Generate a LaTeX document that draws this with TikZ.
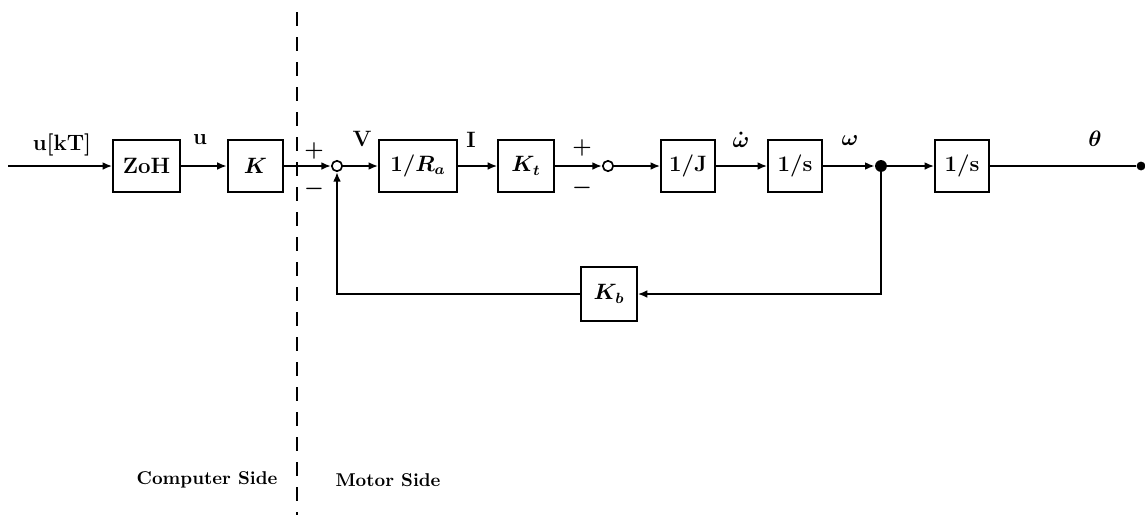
\documentclass[tikz,border=0pt]{standalone}
\usetikzlibrary{arrows.meta}
\begin{document}
\begin{tikzpicture}[x=0.54pt, y=-0.54pt,
  font=\large\bfseries\boldmath,
  box/.style={draw, line width=1pt, minimum height=28pt, minimum width=#1, inner sep=1pt},
  box/.default=30pt,
  arr/.style={-{Latex[length=5.2pt,width=4.2pt]}, line width=1.1pt},
  wire/.style={line width=1.1pt},
  junc/.style={circle, draw, line width=0.9pt, inner sep=0pt, minimum size=5.6pt},
  dot/.style={circle, fill, inner sep=0pt, minimum size=#1},
  dot/.default=6.4pt]
\useasboundingbox (0,0) rectangle (1145,515);
% forward path
\coordinate (in) at (8,166);
\node[box=36pt] (zoh) at (146.5,166) {ZoH};
\node[box=30pt] (k) at (255.5,166) {$K$};
\node[junc] (s1) at (337,166) {};
\node[box=42pt] (ra) at (418,166) {1/$R_a$};
\node[box=30pt] (kt) at (526,166) {$K_t$};
\node[junc] (s2) at (608,166) {};
\node[box=29pt] (j) at (688,166) {1/J};
\node[box=29pt] (int1) at (795,166) {1/s};
\node[dot] (br) at (881,166) {};
\node[box=29pt] (int2) at (962,166) {1/s};
\node[dot=4.8pt] (out) at (1141,166) {};
% feedback path
\node[box=30pt, minimum height=29pt] (kb) at (609,294) {$K_b$};
% signal labels
\node (lukt) at (62,145) {u[kT]};
\node (lu) at (200,140) {u};
\node (lv) at (362,139) {V};
\node (li) at (471,140) {I};
\node (lwd) at (741,140) {$\dot{\omega}$};
\node (lw) at (850,141) {$\omega$};
\node (lth) at (1095,139) {$\theta$};
\node (p1) at (314,151) {$+$};
\node (m1) at (314,189) {$-$};
\node (p2) at (582,148) {$+$};
\node (m2) at (582,188) {$-$};
% connectors
\draw[arr] (in) -- (zoh);
\draw[arr] (zoh) -- (k);
\draw[arr] (k) -- (s1);
\draw[arr] (s1) -- (ra);
\draw[arr] (ra) -- (kt);
\draw[arr] (kt) -- (s2);
\draw[arr] (s2) -- (j);
\draw[arr] (j) -- (int1);
\draw[arr] (int1) -- (br);
\draw[arr] (br) -- (int2);
\draw[wire] (int2) -- (out);
\draw[arr] (br) |- (kb);
\draw[arr] (kb) -| (s1);
% computer / motor boundary
\coordinate (ctop) at (297,12);
\coordinate (cbot) at (297,515);
\draw[line width=1.6pt, dash pattern=on 7.5pt off 6pt] (ctop) -- (cbot);
\node[font=\normalsize\bfseries] (comp) at (207,480) {Computer Side};
\node[font=\normalsize\bfseries] (mot) at (388,480) {Motor Side};
\end{tikzpicture}
\end{document}
